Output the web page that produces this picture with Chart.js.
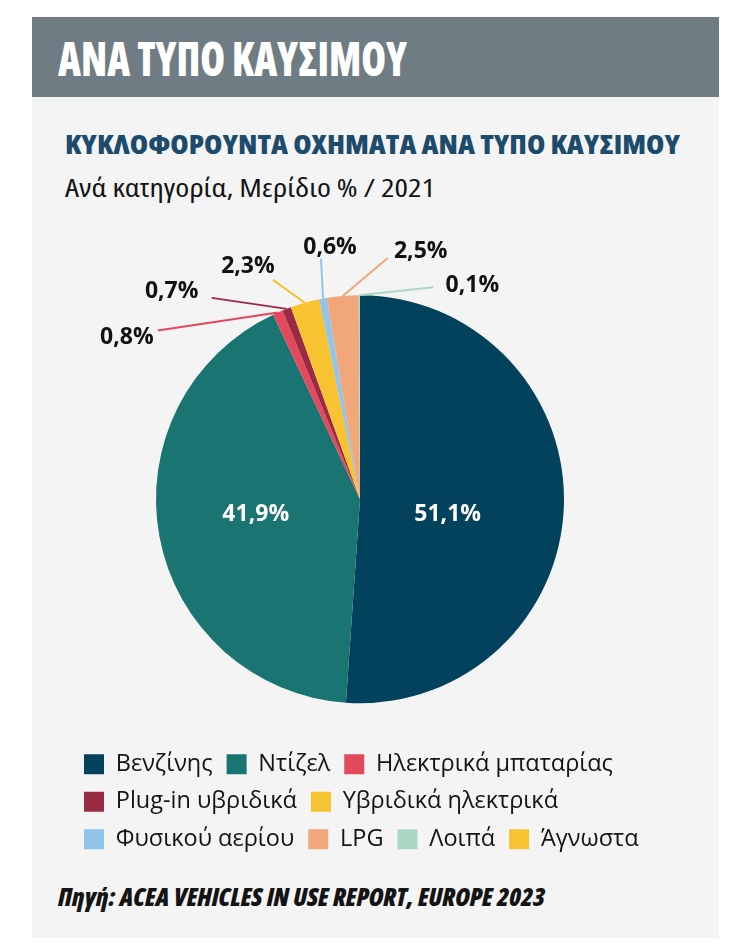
<!DOCTYPE html>
<html lang="el">
<head>
<meta charset="utf-8">
<title>ΑΝΑ ΤΥΠΟ ΚΑΥΣΙΜΟΥ</title>
<script src="https://cdn.jsdelivr.net/npm/chart.js@4.4.1/dist/chart.umd.min.js"></script>
<style>
  html, body { margin: 0; padding: 0; background: #ffffff; }
  body { position: relative; width: 740px; height: 951px; overflow: hidden; font-family: 'Open Sans', sans-serif; }
  .card { position: absolute; left: 32px; top: 17px; width: 687px; height: 921px; background: #f4f4f4; }
  .band { position: absolute; left: 32px; top: 17px; width: 687px; height: 80px; background: #6f7c83; }
  .txt { position: absolute; display: inline-block; white-space: nowrap; transform-origin: 0 50%; font-stretch: 75%; }
  .head { left: 58px; top: 34px; font-size: 48px; line-height: 48px; font-weight: 800; color: #ffffff; }
  .sub { left: 65px; top: 131px; font-size: 26px; line-height: 26px; font-weight: 800; color: #1d4b6c; }
  .sub2 { left: 65px; top: 174px; font-size: 26px; line-height: 26px; font-weight: 500; color: #141414; }
  .src { left: 58px; top: 885px; font-size: 24px; line-height: 24px; font-weight: 800; font-style: italic; color: #141414; }
  .chart-wrap { position: absolute; left: 70px; top: 215px; width: 649px; height: 646px; }
</style>
</head>
<body>
<div class="card"></div>
<div class="band"></div>
<div class="txt head" data-w="349">ΑΝΑ ΤΥΠΟ ΚΑΥΣΙΜΟΥ</div>
<div class="txt sub" data-w="615">ΚΥΚΛΟΦΟΡΟΥΝΤΑ ΟΧΗΜΑΤΑ ΑΝΑ ΤΥΠΟ ΚΑΥΣΙΜΟΥ</div>
<div class="txt sub2" data-w="370">Ανά κατηγορία, Μερίδιο % / 2021</div>
<div class="txt src" data-w="487">Πηγή: ACEA VEHICLES IN USE REPORT, EUROPE 2023</div>
<div class="chart-wrap"><canvas id="fuelPie"></canvas></div>
<script>
// data (share of vehicles in use, %, 2021)
var fuelTypes = ['Βενζίνης', 'Ντίζελ', 'Ηλεκτρικά μπαταρίας', 'Plug-in υβριδικά', 'Υβριδικά ηλεκτρικά', 'Φυσικού αερίου', 'LPG', 'Λοιπά', 'Άγνωστα'];
var shares = [51.1, 41.9, 0.8, 0.7, 2.3, 0.6, 2.5, 0.1, 0];
var sliceColors = ['#02425c', '#1a7472', '#e2495a', '#9a2b45', '#f7c330', '#91c4e8', '#f2a77a', '#acd8c3', '#f7c330'];

// where the value labels go, relative to the slice they belong to
var insideSpots = { 0: { k: 0.43, dy: 12 }, 1: { k: 0.52, dy: -4 } };
var calloutSpots = {
  2: { line: [-120, 18], text: [-31, 7] },
  3: { line: [-75, -11], text: [-40, -6] },
  4: { line: [-32, -23], text: [-25, -13] },
  5: { line: [-2, -40], text: [9, -11] },
  6: { line: [45, -38], text: [33, -7] },
  7: { line: [74, -8], text: [39, -2] }
};

function fmtShare(v) {
  return v.toFixed(1).replace('.', ',') + '%';
}

var valueLabels = {
  id: 'valueLabels',
  afterDatasetsDraw: function (chart) {
    var ctx = chart.ctx;
    var meta = chart.getDatasetMeta(0);
    ctx.save();
    ctx.font = "700 23px 'Open Sans'";
    ctx.textAlign = 'center';
    ctx.textBaseline = 'middle';
    meta.data.forEach(function (arc, i) {
      var v = shares[i];
      if (!v) return;
      var p = arc.getProps(['x', 'y', 'startAngle', 'endAngle', 'outerRadius'], true);
      var a = (p.startAngle + p.endAngle) / 2;
      if (insideSpots[i]) {
        var s = insideSpots[i];
        ctx.fillStyle = '#ffffff';
        ctx.fillText(fmtShare(v), p.x + Math.cos(a) * p.outerRadius * s.k, p.y + Math.sin(a) * p.outerRadius * s.k + s.dy);
        return;
      }
      var c = calloutSpots[i];
      if (!c) return;
      var ax = p.x + Math.cos(a) * p.outerRadius;
      var ay = p.y + Math.sin(a) * p.outerRadius;
      var ex = ax + c.line[0];
      var ey = ay + c.line[1];
      ctx.strokeStyle = sliceColors[i];
      ctx.lineWidth = 2;
      ctx.beginPath();
      ctx.moveTo(ax, ay);
      ctx.lineTo(ex, ey);
      ctx.stroke();
      ctx.fillStyle = '#111111';
      ctx.fillText(fmtShare(v), ex + c.text[0], ey + c.text[1]);
    });
    ctx.restore();
  }
};

function fitText() {
  document.querySelectorAll('[data-w]').forEach(function (el) {
    el.style.transform = 'none';
    var w = el.getBoundingClientRect().width;
    var target = Number(el.getAttribute('data-w'));
    if (w > 0) el.style.transform = 'scaleX(' + (target / w).toFixed(4) + ')';
  });
}

function drawChart() {
  new Chart(document.getElementById('fuelPie').getContext('2d'), {
    type: 'pie',
    data: {
      labels: fuelTypes,
      datasets: [{
        data: shares,
        backgroundColor: sliceColors,
        borderWidth: 0
      }]
    },
    options: {
      responsive: true,
      maintainAspectRatio: false,
      animation: false,
      radius: 204,
      layout: { padding: { top: 45, left: 0, right: 0, bottom: 0 } },
      plugins: {
        legend: {
          position: 'bottom',
          align: 'start',
          labels: {
            boxWidth: 20,
            boxHeight: 20,
            padding: 14,
            color: '#141414',
            font: { family: "'Open Sans'", size: 23.5, weight: 500 }
          }
        },
        // empty box on the right, keeps the pie centred in the card
        subtitle: { display: true, position: 'right', text: '', padding: 29.5, font: { size: 10, lineHeight: 1 } },
        tooltip: { enabled: false }
      }
    },
    plugins: [valueLabels]
  });
}

document.fonts.ready.then(function () {
  fitText();
  drawChart();
});
</script>
</body>
</html>
